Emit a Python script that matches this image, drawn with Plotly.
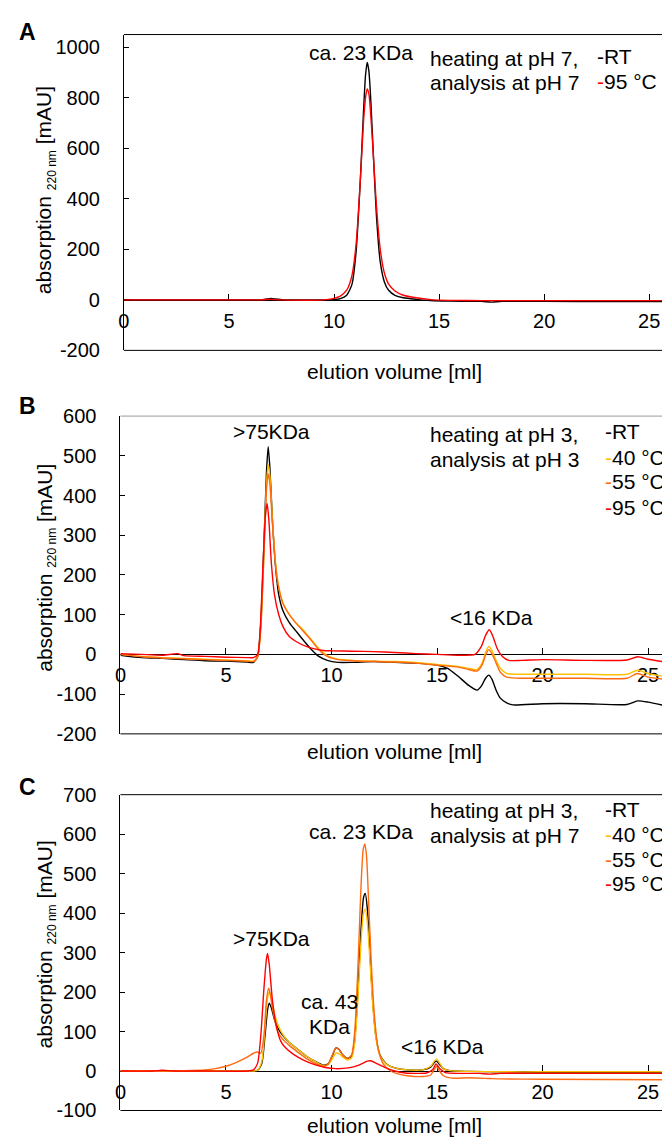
import plotly.graph_objects as go

W, H = 662, 1147
FONT = "Arial, 'Liberation Sans', sans-serif"

# ---------------- Panel A: heating at pH 7, analysis at pH 7 ----------------
vol_a_rt = [0, 3, 6.5, 6.8, 7.0, 7.2, 7.6, 9.8, 10.3, 10.6, 10.85, 11.05, 11.25, 11.4, 11.5,
            11.58, 11.66, 11.75, 11.88, 12.02, 12.2, 12.4, 12.6, 12.9, 13.3, 13.9, 14.6, 15.5,
            17.0, 17.5, 18.0, 20, 23, 25.7]
abs_a_rt = [0, 0, 0, 3, 5, 3, 0, 0, 5, 18, 60, 190, 470, 740, 890,
            940, 905, 790, 560, 330, 150, 70, 38, 18, 8, 2, -3, -5,
            -6, -9, -6, -6, -7, -7]

vol_a_95 = [0, 3, 6.5, 7.0, 7.5, 9.5, 9.9, 10.3, 10.6, 10.85, 11.05, 11.25, 11.4, 11.5, 11.58,
            11.66, 11.75, 11.88, 12.02, 12.2, 12.4, 12.6, 12.9, 13.3, 13.9, 14.6, 15.5, 17.0,
            20, 23, 25.7]
abs_a_95 = [0, 0, 0, 2, 0, 0, 4, 15, 38, 95, 220, 470, 700, 800, 835,
            815, 730, 560, 370, 200, 105, 62, 35, 18, 8, 1, -2, -3,
            -3, -3, -3]

# ---------------- Panel B: heating at pH 3, analysis at pH 3 ----------------
vol_b_rt = [0, 1, 2, 3, 4, 5, 6.0, 6.3, 6.5, 6.65, 6.8, 6.92, 7.0, 7.08, 7.2, 7.35, 7.5, 7.7,
            8.0, 8.3, 8.6, 9.0, 9.4, 9.8, 10.3, 11, 12, 13, 14, 15, 15.5, 16.0, 16.5, 16.9,
            17.1, 17.3, 17.45, 17.6, 17.8, 18.0, 18.3, 18.6, 20, 22, 24.0, 24.5, 25.0, 25.7]
abs_b_rt = [-2, -8, -10, -13, -16, -17, -19, -20, -5, 80, 280, 460, 523, 470, 340, 220, 150, 110,
            80, 60, 40, 15, -5, -15, -20, -20, -18, -20, -22, -27, -35, -55, -78, -90,
            -80, -60, -52, -62, -90, -110, -122, -127, -124, -124, -126, -117, -120, -128]

vol_b_heat = [0, 1, 2, 3, 4, 5, 6.0, 6.3, 6.5, 6.65, 6.8, 6.92, 7.0, 7.08, 7.2, 7.35, 7.5, 7.7,
              8.0, 8.3, 8.6, 9.0, 9.4, 9.8, 10.3, 11, 12, 13, 14, 15, 16, 16.5, 16.9, 17.15,
              17.3, 17.45, 17.6, 17.8, 18.0, 18.3, 19, 20, 22, 24, 24.5, 25, 25.7]
abs_b_40 = [0, -5, -8, -10, -12, -14, -16, -17, -5, 70, 260, 430, 478, 450, 340, 230, 170, 130,
            100, 80, 65, 40, 15, -3, -12, -15, -17, -18, -20, -25, -30, -35, -38, -20,
            5, 20, 10, -15, -35, -48, -50, -50, -50, -50, -40, -48, -55]
abs_b_55 = [0, -6, -9, -11, -13, -15, -17, -18, -6, 65, 250, 415, 455, 430, 330, 225, 168, 128,
            100, 80, 62, 38, 12, -5, -13, -16, -18, -19, -22, -27, -32, -38, -42, -25,
            -2, 12, 2, -22, -45, -57, -60, -60, -60, -60, -48, -57, -62]

vol_b_95 = [0, 1, 2, 2.7, 3, 4, 5, 6.0, 6.3, 6.5, 6.62, 6.75, 6.87, 6.95, 7.03, 7.15, 7.3, 7.5,
            7.7, 8.0, 8.4, 8.8, 9.2, 9.6, 10, 11, 12, 13, 14, 15, 16, 16.8, 17.1, 17.3, 17.48,
            17.65, 17.85, 18.1, 18.4, 19, 20, 22, 24, 24.5, 25, 25.7]
abs_b_95 = [2, 0, -2, 2, -3, -5, -7, -8, -8, 0, 60, 220, 350, 380, 340, 230, 150, 100,
            70, 45, 30, 20, 14, 10, 9, 8, 7, 5, 2, 0, -2, 0, 20, 48, 62,
            45, 15, -5, -15, -15, -13, -15, -14, -6, -12, -18]

# ---------------- Panel C: heating at pH 3, analysis at pH 7 ----------------
vol_c_rt = [0, 2, 4, 5.5, 6.2, 6.5, 6.7, 6.85, 6.97, 7.05, 7.15, 7.3, 7.5, 7.7, 8.0, 8.4, 8.8,
            9.2, 9.6, 9.85, 10.05, 10.2, 10.35, 10.55, 10.75, 10.95, 11.1, 11.25, 11.4, 11.52,
            11.6, 11.7, 11.82, 11.95, 12.1, 12.3, 12.6, 13.0, 13.6, 14.3, 14.7, 14.88, 14.98,
            15.1, 15.3, 15.6, 16.5, 18, 20, 25.7]
abs_c_rt = [0, 0, 0, 0, 0, 2, 20, 90, 155, 172, 160, 130, 105, 90, 72, 55, 38,
            25, 15, 18, 40, 58, 55, 40, 32, 38, 80, 200, 360, 440,
            450, 410, 300, 180, 90, 40, 18, 8, 3, 3, 10, 22, 25,
            18, 6, 1, -1, -2, -3, -3]
abs_c_40 = [0, 0, 0, 0, 0, 2, 25, 110, 185, 200, 185, 145, 112, 92, 72, 55, 38,
            25, 14, 16, 32, 45, 44, 35, 28, 33, 70, 180, 330, 400,
            410, 375, 280, 170, 85, 38, 17, 8, 3, 3, 12, 26, 30,
            22, 6, 1, -1, -2, -2, -2]

vol_c_55 = [0, 2, 3, 4, 4.5, 5, 5.5, 6.0, 6.3, 6.5, 6.65, 6.8, 6.92, 7.02, 7.1, 7.2, 7.35, 7.5,
            7.7, 8.0, 8.4, 8.8, 9.2, 9.6, 9.85, 10.05, 10.2, 10.35, 10.55, 10.75, 10.95, 11.1,
            11.25, 11.4, 11.5, 11.58, 11.66, 11.75, 11.88, 12.02, 12.2, 12.45, 12.8, 13.2,
            13.6, 14.3, 14.7, 14.88, 14.98, 15.1, 15.3, 15.7, 16.5, 17.5, 18, 20, 25.7]
abs_c_55 = [0, 0, 1, 3, 6, 12, 22, 35, 45, 48, 45, 90, 180, 210, 195, 160, 120, 95,
            80, 65, 48, 32, 20, 12, 18, 42, 58, 55, 40, 32, 40, 100,
            260, 470, 560, 575, 545, 440, 280, 150, 60, 18, 0, -8,
            -12, -14, -10, 5, 12, 2, -12, -18, -17, -19, -20, -21, -22]

vol_c_95 = [0, 1.5, 2, 2.5, 4, 6.0, 6.3, 6.5, 6.65, 6.8, 6.92, 6.97, 7.05, 7.2, 7.4, 7.6, 7.8,
            8.2, 8.7, 9.2, 9.7, 10.2, 10.8, 11.3, 11.7, 11.85, 12.1, 12.5, 13.0, 13.5, 14.5,
            14.8, 14.95, 15.15, 15.4, 17.0, 17.5, 18.0, 20, 25.7]
abs_c_95 = [0, 0, 2, 0, 0, 0, 3, 20, 90, 210, 285, 298, 270, 180, 110, 75, 60,
            42, 27, 16, 9, 6, 8, 15, 25, 26, 20, 10, 0, -5, -5,
            4, 18, 5, -4, -6, -8, -6, -6, -6]

# Tick values per panel (labels written with a plain hyphen for negatives)
xticks = [0, 5, 10, 15, 20, 25]
yticks_a = [-200, 0, 200, 400, 600, 800, 1000]
yticks_b = [-200, -100, 0, 100, 200, 300, 400, 500, 600]
yticks_c = [-100, 0, 100, 200, 300, 400, 500, 600, 700]

COL_RT, COL_40, COL_55, COL_95 = "#000000", "#FFC000", "#FF6A10", "#FF0000"

fig = go.Figure()

# Panel geometry (pixel boxes of each plot area) and axis ranges
panels = [
    dict(n="", top=24, bottom=346, left=119, xr=[0, 25.61], yr=[-200, 1050], yt=yticks_a,
         topcol="#000000"),
    dict(n="2", top=413, bottom=737, left=115.5, xr=[0, 25.66], yr=[-200, 600], yt=yticks_b,
         topcol="#9a9a9a"),
    dict(n="3", top=799, bottom=1121, left=115.5, xr=[0, 25.66], yr=[-100, 700], yt=yticks_c,
         topcol="#000000"),
]

series = [
    ("", [(vol_a_rt, abs_a_rt, COL_RT), (vol_a_95, abs_a_95, COL_95)]),
    ("2", [(vol_b_rt, abs_b_rt, COL_RT), (vol_b_heat, abs_b_40, COL_40),
           (vol_b_heat, abs_b_55, COL_55), (vol_b_95, abs_b_95, COL_95)]),
    ("3", [(vol_c_rt, abs_c_rt, COL_RT), (vol_c_rt, abs_c_40, COL_40),
           (vol_c_55, abs_c_55, COL_55), (vol_c_95, abs_c_95, COL_95)]),
]

for n, traces in series:
    for xs, ys, col in traces:
        fig.add_trace(go.Scatter(x=xs, y=ys, mode="lines", xaxis="x" + n, yaxis="y" + n,
                                 line=dict(color=col, width=1.4, shape="spline", smoothing=0.6),
                                 showlegend=False, hoverinfo="skip"))


def tick_text(vals):
    return [str(v).replace("−", "-") for v in vals]


layout = dict(width=W, height=H, margin=dict(l=0, r=0, t=0, b=0),
              paper_bgcolor="white", plot_bgcolor="white", showlegend=False,
              font=dict(family=FONT, color="black"))
shapes = []
for p in panels:
    n = p["n"]
    d0 = 1 - p["bottom"] / H
    d1 = 1 - p["top"] / H
    ymin, ymax = p["yr"]
    zero_pos = d0 + (0 - ymin) / (ymax - ymin) * (d1 - d0)
    layout["xaxis" + n] = dict(
        domain=[p["left"] / W, 1], range=p["xr"], anchor="free", position=zero_pos,
        showline=True, linecolor="black", linewidth=1, ticks="inside", ticklen=6,
        tickcolor="black", tickwidth=1, tickmode="array", tickvals=xticks,
        ticktext=tick_text(xticks), showgrid=False, zeroline=False,
        tickfont=dict(size=20, family=FONT), ticklabelstandoff=3, layer="below traces",
        fixedrange=True)
    layout["yaxis" + n] = dict(
        domain=[d0, d1], range=p["yr"], anchor="x" + n, showline=True, linecolor="black",
        linewidth=1, ticks="inside", ticklen=5, tickcolor="black", tickwidth=1,
        tickmode="array", tickvals=p["yt"], ticktext=tick_text(p["yt"]),
        showgrid=False, zeroline=False,
        tickfont=dict(size=20, family=FONT), ticklabelstandoff=19, layer="below traces",
        fixedrange=True)
    xd = "x" + n + " domain" if n else "x domain"
    yd = "y" + n + " domain" if n else "y domain"
    shapes.append(dict(type="line", xref=xd, yref=yd, x0=0, x1=1, y0=1, y1=1,
                       line=dict(color=p["topcol"], width=1)))
    shapes.append(dict(type="line", xref=xd, yref=yd, x0=0, x1=1, y0=0, y1=0,
                       line=dict(color="black", width=1)))
layout["shapes"] = shapes
fig.update_layout(**layout)


def note(text, xpx, ypx, size=21, xanchor="center", angle=0, bold=False):
    if bold:
        text = "<b>" + text + "</b>"
    fig.add_annotation(text=text, xref="paper", yref="paper", x=xpx / W, y=1 - ypx / H,
                       xanchor=xanchor, yanchor="middle", showarrow=False, textangle=angle,
                       borderpad=0, font=dict(size=size, family=FONT, color="black"))


def key(col, label):
    return f"<span style='color:{col}'>-</span>{label}"


ytitle = "absorption <sub><span style='font-size:12px'>220 nm</span></sub> [mAU]"

# Panel A texts
note("A", 22, 21, size=23, bold=True)
note(ytitle, 40, 183, angle=-90)
note("elution volume [ml]", 392, 368)
note("ca. 23 KDa", 358, 42)
note("heating at pH 7,", 427, 48, xanchor="left")
note("analysis at pH 7", 427, 73, xanchor="left")
note(key(COL_RT, "RT"), 595, 46, xanchor="left")
note(key(COL_95, "95 °C"), 595, 72, xanchor="left")

# Panel B texts
note("B", 22, 403, size=23, bold=True)
note(ytitle, 40, 568, angle=-90)
note("elution volume [ml]", 392, 755)
note("&gt;75KDa", 268, 429)
note("&lt;16 KDa", 490, 618)
note("heating at pH 3,", 427, 432, xanchor="left")
note("analysis at pH 3", 427, 457, xanchor="left")
note(key(COL_RT, "RT"), 603, 429, xanchor="left")
note(key(COL_40, "40 °C"), 603, 455, xanchor="left")
note(key(COL_55, "55 °C"), 603, 480, xanchor="left")
note(key(COL_95, "95 °C"), 603, 506, xanchor="left")

# Panel C texts
note("C", 22, 791, size=23, bold=True)
note(ytitle, 40, 952, angle=-90)
note("elution volume [ml]", 392, 1136)
note("ca. 23 KDa", 358, 837)
note("&gt;75KDa", 268, 946)
note("ca. 43", 326, 1010)
note("KDa", 326, 1035)
note("&lt;16 KDa", 440, 1056)
note("heating at pH 3,", 427, 815, xanchor="left")
note("analysis at pH 7", 427, 841, xanchor="left")
note(key(COL_RT, "RT"), 603, 814, xanchor="left")
note(key(COL_40, "40 °C"), 603, 840, xanchor="left")
note(key(COL_55, "55 °C"), 603, 865, xanchor="left")
note(key(COL_95, "95 °C"), 603, 890, xanchor="left")

fig.write_html("out.html")
